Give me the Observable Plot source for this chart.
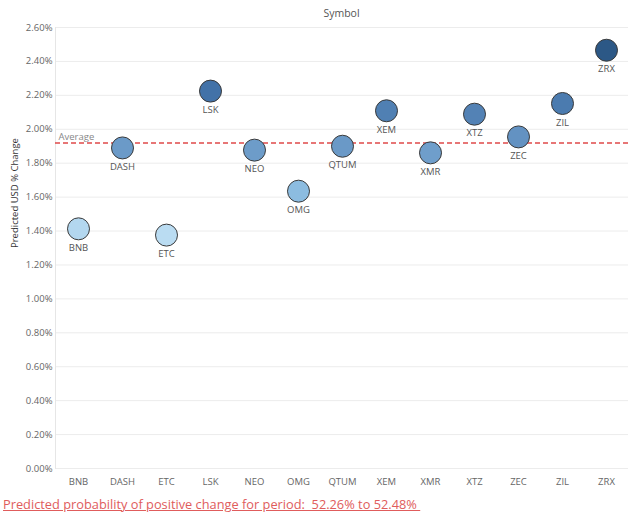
<!DOCTYPE html>
<html>
<head>
<meta charset="utf-8">
<script src="https://cdn.jsdelivr.net/npm/d3@7"></script>
<script src="https://cdn.jsdelivr.net/npm/@observablehq/plot@0.6"></script>
<style>
  body { margin: 0; background: #fff; font-family: "Open Sans", "Noto Sans", sans-serif; }
  #title { width: 573px; margin-left: 55px; height: 22px; line-height: 26px; text-align: center; font-size: 10.5px; color: #555; }
  #caption { margin: 3px 0 0 3px; font-size: 12.8px; color: #e05c5c; text-decoration: underline; white-space: pre; }
</style>
</head>
<body>
<div id="title">Symbol</div>
<div id="chart"></div>
<div id="caption">Predicted probability of positive change for period:  52.26% to 52.48% </div>
<script>
const symbols = ["BNB","DASH","ETC","LSK","NEO","OMG","QTUM","XEM","XMR","XTZ","ZEC","ZIL","ZRX"];
const changes = [1.413, 1.890, 1.376, 2.225, 1.877, 1.635, 1.900, 2.109, 1.861, 2.089, 1.955, 2.152, 2.466];
const yTicks = [0,0.2,0.4,0.6,0.8,1.0,1.2,1.4,1.6,1.8,2.0,2.2,2.4,2.6];
const colorStops = [1.376, 1.635, 1.89, 2.225, 2.466];
const colorRange = ["#badcf2", "#8cbce0", "#6b9ac8", "#4272a8", "#2c5886"];

const data = symbols.map((s, i) => ({symbol: s, change: changes[i]}));
const avg = d3.mean(changes);

const chart = Plot.plot({
  width: 640,
  height: 470,
  marginLeft: 55,
  marginRight: 12,
  marginTop: 5,
  marginBottom: 24,
  style: {fontFamily: '"Open Sans", "Noto Sans", sans-serif', fontSize: "9.5px", color: "#666"},
  x: {type: "band", domain: symbols, padding: 0},
  y: {domain: [0, 2.6]},
  color: {type: "linear", domain: colorStops, range: colorRange, interpolate: "rgb"},
  marks: [
    Plot.gridY(yTicks, {stroke: "#ececec", strokeOpacity: 1}),
    Plot.frame({anchor: "left", stroke: "#e6e6e6"}),
    Plot.axisY(yTicks, {tickSize: 0, tickPadding: 3, tickFormat: d => d.toFixed(2) + "%", label: null, fill: "#666"}),
    Plot.axisX({tickSize: 0, tickPadding: 10, label: null, fill: "#666"}),
    Plot.text(["Predicted USD % Change"], {frameAnchor: "left", rotate: -90, dx: -41, fill: "#333", fontSize: 9.5}),
    Plot.ruleY([avg], {stroke: "#e04a4a", strokeWidth: 1.3, strokeDasharray: "5,3"}),
    Plot.text(["Average"], {y: avg, frameAnchor: "left", textAnchor: "start", dx: 3, dy: -6, fill: "#888", fontSize: 9.5}),
    Plot.dot(data, {x: "symbol", y: "change", r: 11, fill: "change", stroke: "#3a3a3a", strokeWidth: 1}),
    Plot.text(data, {x: "symbol", y: "change", text: "symbol", dy: 19, fill: "#555", fontSize: 9.5})
  ]
});
document.getElementById("chart").append(chart);
</script>
</body>
</html>
